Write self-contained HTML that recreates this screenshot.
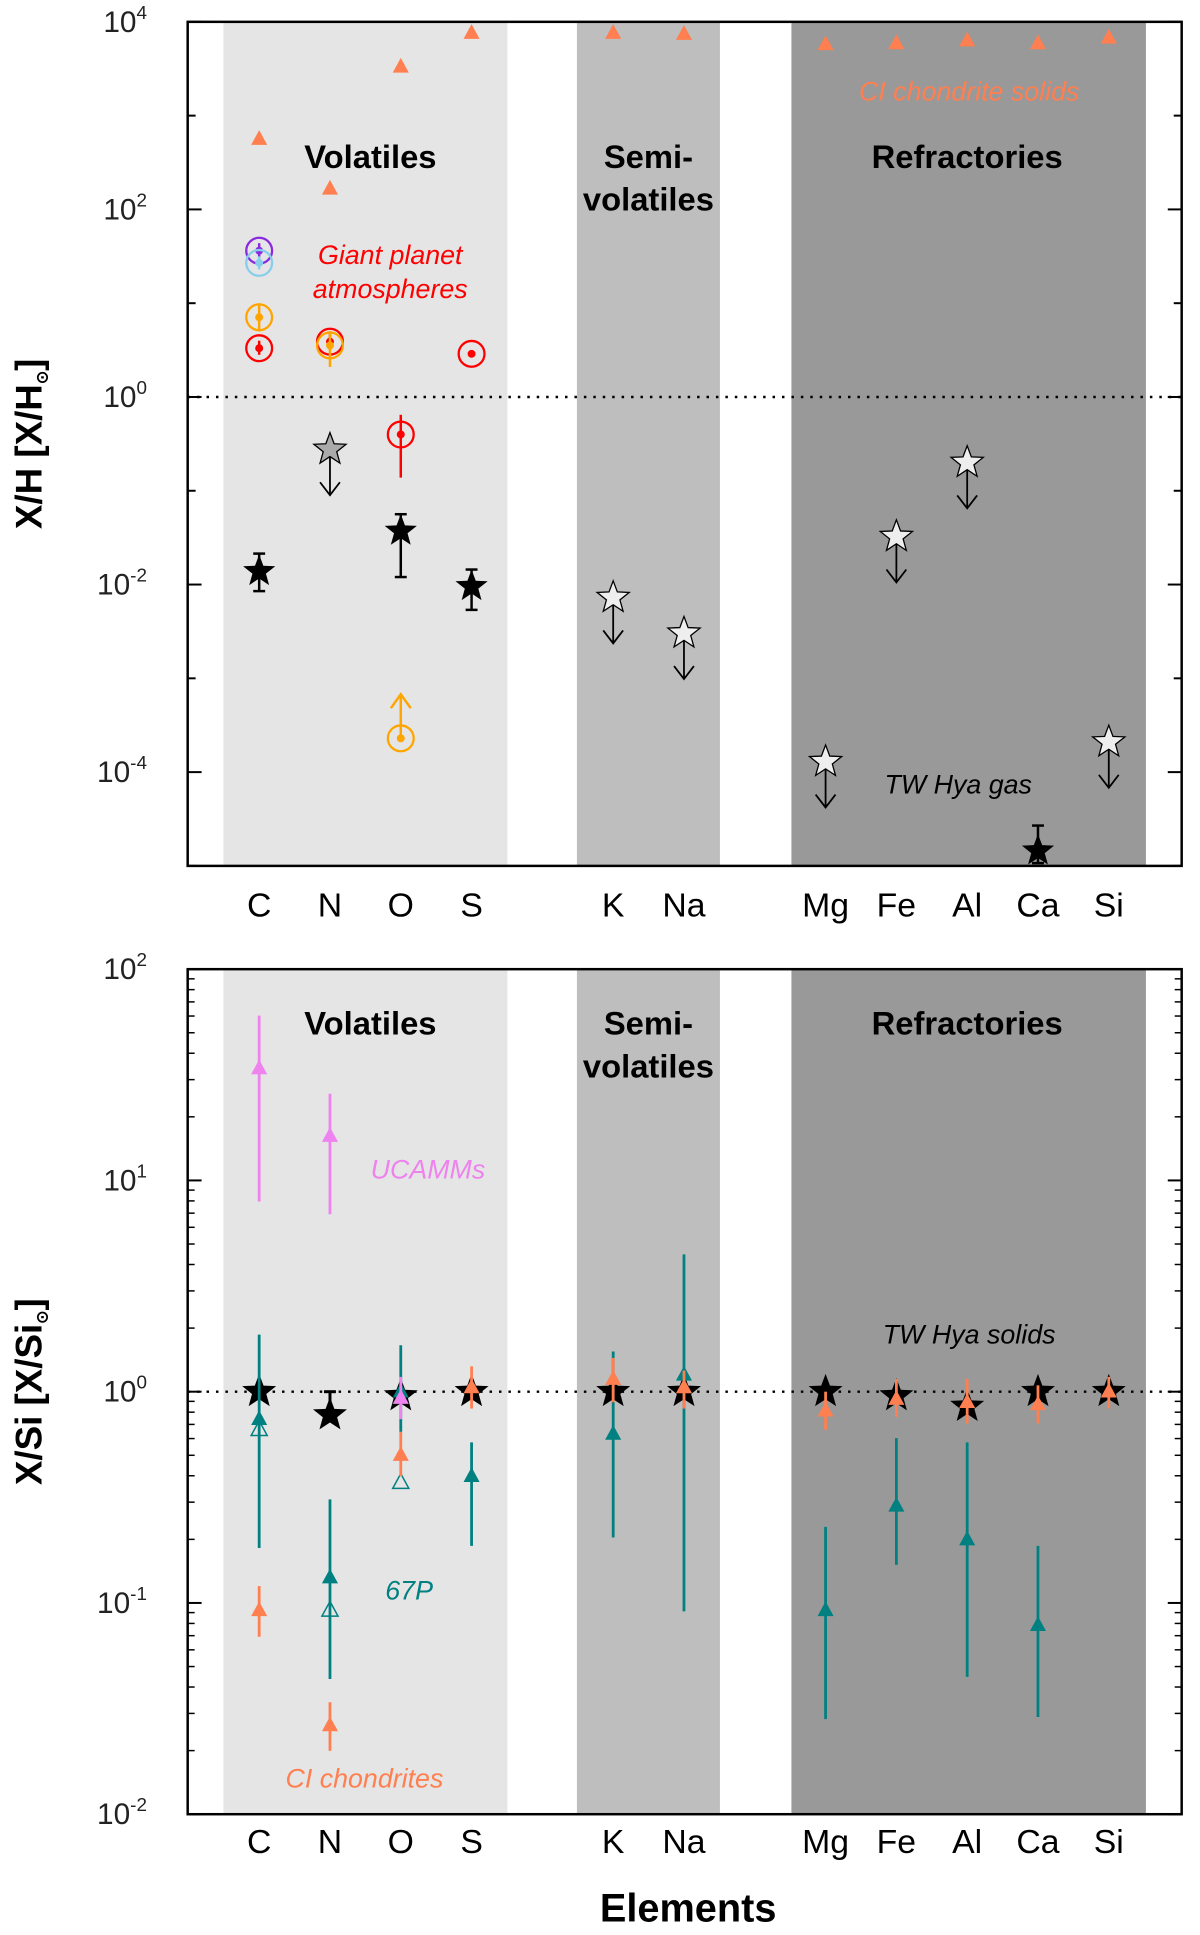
<!DOCTYPE html>
<html><head><meta charset="utf-8"><style>
body{margin:0;background:#fff}
svg{display:block;font-family:"Liberation Sans",Arial,sans-serif}
</style></head><body>
<svg width="1200" height="1935" viewBox="0 0 1200 1935" xmlns="http://www.w3.org/2000/svg"><g id="chart" transform="scale(0.993)"></g></svg>
<script>
// ===== Data =====
const elements = ["C","N","O","S","K","Na","Mg","Fe","Al","Ca","Si"];
const elemPos = [0,1,2,3,5,6,8,9,10,11,12];
// Top panel: log10 X/H relative to solar
const ciSolidsTop = [2.75,2.22,3.52,3.88,3.88,3.87,3.76,3.77,3.8,3.77,3.83];
const gpElem = ["C","C","C","C","N","N","O","O","S"];
const gpVal = [1.56,1.43,0.85,0.52,0.59,0.55,-0.4,-3.64,0.46];
const gpLo = [1.48,1.36,0.7,0.45,0.5,0.32,-0.86,-3.64,0.46];
const gpHi = [1.64,1.5,1.0,0.6,0.7,0.7,-0.19,-3.17,0.46];
const gpColor = ["#8a2be2","#87ceeb","#ffa500","#ff0000","#ff0000","#ffa500","#ff0000","#ffa500","#ff0000"];
const gasDetElem = ["C","O","S","Ca"];
const gasDetVal = [-1.86,-1.43,-2.02,-4.84];
const gasDetLo = [-2.07,-1.92,-2.27,-4.97];
const gasDetHi = [-1.67,-1.25,-1.84,-4.57];
const gasLimElem = ["N","K","Na","Mg","Fe","Al","Si"];
const gasLimVal = [-0.56,-2.14,-2.52,-3.89,-1.49,-0.70,-3.68];
// Bottom panel: log10 X/Si relative to solar
const solidsVal = [0,-0.11,-0.02,0,0,0,0,-0.02,-0.07,0,0];
const ciVal = [-1.035,-1.58,-0.30,0.02,0.06,0.02,-0.09,-0.035,-0.05,-0.06,0];
const ciLo = [-1.16,-1.70,-0.40,-0.08,-0.05,-0.08,-0.18,-0.12,-0.15,-0.15,-0.08];
const ciHi = [-0.92,-1.47,-0.19,0.12,0.16,0.1,0.0,0.06,0.06,0.03,0.07];
const p67Elem = ["C","N","O","S","K","Na","Mg","Fe","Al","Ca"];
const p67Val = [-0.13,-0.88,0.0,-0.40,-0.20,0.08,-1.035,-0.54,-0.70,-1.105];
const p67Lo = [-0.74,-1.36,-0.19,-0.73,-0.69,-1.04,-1.55,-0.82,-1.35,-1.54];
const p67Hi = [0.27,-0.51,0.22,-0.24,0.19,0.65,-0.64,-0.22,-0.24,-0.73];
const p67OpenElem = ["C","N","O"];
const p67OpenVal = [-0.18,-1.035,-0.43];
const ucElem = ["C","N","O"];
const ucVal = [1.53,1.21,-0.03];
const ucLo = [0.90,0.84,-0.13];
const ucHi = [1.78,1.41,0.07];
const topTicks = [4,2,0,-2,-4];
const botTicks = [2,1,0,-1,-2];

// ===== Helpers =====
const svg = document.getElementById('chart');
const NS = "http://www.w3.org/2000/svg";
function mk(tag, attrs, parent){const e=document.createElementNS(NS,tag);for(const k in attrs)e.setAttribute(k,attrs[k]);(parent||svg).appendChild(e);return e;}
const X0=189, X1=1190;
function xPos(el){return 261 + elemPos[elements.indexOf(el)]*71.3;}
const topP={y0:22,y1:872,max:4,min:-5};
const botP={y0:976,y1:1827,max:2,min:-2};
function yS(p,v){return p.y0+(p.max-v)/(p.max-p.min)*(p.y1-p.y0);}
function starPath(cx,cy,r){let d="";for(let i=0;i<10;i++){const a=-Math.PI/2+i*Math.PI/5;const rr=i%2?r*0.42:r;d+=(i?"L":"M")+(cx+rr*Math.cos(a)).toFixed(1)+","+(cy+rr*Math.sin(a)).toFixed(1);}return d+"Z";}
function triPath(cx,cy,s){return `M${cx},${cy-s}L${cx+s*0.9},${cy+s*0.65}L${cx-s*0.9},${cy+s*0.65}Z`;}

function panel(p,name,ticks,minor,title,off1,off2,labOff){
  const g=mk('g',{});
  
  
  const bands=[[225,511,'#e5e5e5','volatiles-band'],[581,725,'#bebebe','semi-volatiles-band'],[797,1154,'#999999','refractories-band']];
  bands.forEach(b=>{const r=mk('rect',{x:b[0],y:p.y0,width:b[1]-b[0],height:p.y1-p.y0,fill:b[2]},g);
    
    });
  const l=mk('line',{x1:X0,x2:X1,y1:yS(p,0),y2:yS(p,0),stroke:'#000','stroke-width':2.5,'stroke-dasharray':'2.5 7'},g);
  
  
  for(let v=p.min;v<=p.max;v++){
    const y=yS(p,v);const major=ticks.includes(v);const len=major?14:8;
    mk('line',{x1:X0,x2:X0+len,y1:y,y2:y,stroke:'#000','stroke-width':2},g);
    mk('line',{x1:X1-len,x2:X1,y1:y,y2:y,stroke:'#000','stroke-width':2},g);
    if(minor&&v<p.max){for(let k=2;k<10;k++){const yy=yS(p,v+Math.log10(k));
      mk('line',{x1:X0,x2:X0+7,y1:yy,y2:yy,stroke:'#000','stroke-width':1.5},g);
      mk('line',{x1:X1-7,x2:X1,y1:yy,y2:yy,stroke:'#000','stroke-width':1.5},g);}}
  }
  ticks.forEach(v=>{const t=mk('text',{x:148,y:yS(p,v)+10,'text-anchor':'end','font-size':30,fill:'#222'},g);
    
    
    t.appendChild(document.createTextNode('10'));
    const s=mk('tspan',{'font-size':19,dy:-13},t);s.textContent=String(v);});
  const fr=mk('rect',{x:X0,y:p.y0,width:X1-X0,height:p.y1-p.y0,fill:'none',stroke:'#000','stroke-width':2.5},g);
  
  
  elements.forEach(e=>{const t=mk('text',{x:xPos(e),y:p.y1+labOff,'text-anchor':'middle','font-size':34,fill:'#000'},g);
    
    
    t.textContent=e;});
  const cy=(p.y0+p.y1)/2;
  const t=mk('text',{x:0,y:0,transform:`translate(42,${cy}) rotate(-90)`,'text-anchor':'middle','font-size':37,'font-weight':'bold',fill:'#000'},g);
  
  
  t.appendChild(document.createTextNode(title[0]+'  ['+title[0]));
  const sb=mk('tspan',{'font-size':16,dy:6},t);sb.textContent='⊙';
  const cl=mk('tspan',{dy:-6},t);cl.textContent=']';
  const lbls=[['Volatiles',373,'volatiles-label'],['Semi-',653,'semi-label'],['volatiles',653,'semi-volatiles-label'],['Refractories',974,'refractories-label']];
  lbls.forEach((b,i)=>{const yy=p.y0+(i==2?off2:off1);const tt=mk('text',{x:b[1],y:yy,'text-anchor':'middle','font-size':33,'font-weight':'bold',fill:'#000'},g);
    
    
    tt.textContent=b[0];});
  return g;
}
function label(txt,x,y,color,size,name){const t=mk('text',{x:x,y:y,'text-anchor':'middle','font-size':size,'font-style':'italic',fill:color});
  
  
  t.textContent=txt;}
function errbar(x,y1,y2,color,w){const l=mk('line',{x1:x,x2:x,y1:y1,y2:y2,stroke:color,'stroke-width':w});
  
  }

// ===== Top panel =====
panel(topP,'xh',topTicks,false,['X/H'],147,190,51);
label('CI chondrite solids',976,101,'#ff7f50',27,'ci-solids-label');
label('Giant planet',393,266,'#ff0000',27,'giant-planet-label');
label('atmospheres',393,300,'#ff0000',27,'giant-planet-label-2');
label('TW Hya gas',965,799,'#000',27,'tw-hya-gas-label');
elements.forEach((e,i)=>{const p=mk('path',{d:triPath(xPos(e),yS(topP,ciSolidsTop[i]),9),fill:'#ff7f50'});
  
  });
gpElem.forEach((e,i)=>{const x=xPos(e),y=yS(topP,gpVal[i]),c=gpColor[i];
  errbar(x,yS(topP,gpLo[i]),yS(topP,gpHi[i]),c,2.5);
  if(gpHi[i]-gpVal[i]>0.3&&gpLo[i]==gpVal[i]){const ya=yS(topP,gpHi[i]);mk('path',{d:`M${x-10},${ya+14}L${x},${ya}L${x+10},${ya+14}`,fill:'none',stroke:c,'stroke-width':2.5});}
  const ci=mk('circle',{cx:x,cy:y,r:13,fill:'none',stroke:c,'stroke-width':2.3});
  
  
  mk('circle',{cx:x,cy:y,r:4,fill:c});});
gasDetElem.forEach((e,i)=>{const x=xPos(e);
  errbar(x,yS(topP,gasDetLo[i]),yS(topP,gasDetHi[i]),'#000',2.5);
  mk('line',{x1:x-6,x2:x+6,y1:yS(topP,gasDetHi[i]),y2:yS(topP,gasDetHi[i]),stroke:'#000','stroke-width':2.5});
  mk('line',{x1:x-6,x2:x+6,y1:yS(topP,gasDetLo[i]),y2:yS(topP,gasDetLo[i]),stroke:'#000','stroke-width':2.5});
  const s=mk('path',{d:starPath(x,yS(topP,gasDetVal[i]),17),fill:'#000'});
  
  });
gasLimElem.forEach((e,i)=>{const x=xPos(e),y=yS(topP,gasLimVal[i]);
  mk('line',{x1:x,x2:x,y1:y,y2:y+45,stroke:'#000','stroke-width':1.8});
  mk('path',{d:`M${x-10},${y+33}L${x},${y+46}L${x+10},${y+33}`,fill:'none',stroke:'#000','stroke-width':1.8});
  const s=mk('path',{d:starPath(x,y,17),fill:e=='N'?'#aaaaaa':'#eeeeee',stroke:'#000','stroke-width':1.3});
  
  });

// ===== Bottom panel =====
panel(botP,'xsi',botTicks,true,['X/Si'],66,109,39);
label('UCAMMs',431,1187,'#ee82ee',27,'ucamms-label');
label('TW Hya solids',976,1353,'#000',27,'tw-hya-solids-label');
label('67P',412,1611,'#008080',27,'67p-label');
label('CI chondrites',367,1800,'#ff7f50',27,'ci-chondrites-label');
const ax=mk('text',{x:693,y:1935,'text-anchor':'middle','font-size':40,'font-weight':'bold',fill:'#000'});


ax.textContent='Elements';
elements.forEach((e,i)=>{const x=xPos(e);
  if(e=='N'){errbar(x,yS(botP,solidsVal[i]),yS(botP,0),'#000',3);mk('line',{x1:x-6,x2:x+6,y1:yS(botP,0),y2:yS(botP,0),stroke:'#000','stroke-width':3});}
  const s=mk('path',{d:starPath(x,yS(botP,solidsVal[i]),18),fill:'#000'});
  
  });
p67Elem.forEach((e,i)=>{const x=xPos(e);
  errbar(x,yS(botP,p67Lo[i]),yS(botP,p67Hi[i]),'#008080',2.8);
  const p=mk('path',{d:triPath(x,yS(botP,p67Val[i]),9),fill:'#008080'});
  
  });
p67OpenElem.forEach((e,i)=>{const p=mk('path',{d:triPath(xPos(e),yS(botP,p67OpenVal[i]),9),fill:'none',stroke:'#008080','stroke-width':1.5});
  
  });
elements.forEach((e,i)=>{const x=xPos(e);
  errbar(x,yS(botP,ciLo[i]),yS(botP,ciHi[i]),'#ff7f50',2.8);
  const p=mk('path',{d:triPath(x,yS(botP,ciVal[i]),9),fill:'#ff7f50'});
  
  });
ucElem.forEach((e,i)=>{const x=xPos(e);
  errbar(x,yS(botP,ucLo[i]),yS(botP,ucHi[i]),'#ee82ee',2.8);
  const p=mk('path',{d:triPath(x,yS(botP,ucVal[i]),9),fill:'#ee82ee'});
  
  });
</script>
</body></html>
